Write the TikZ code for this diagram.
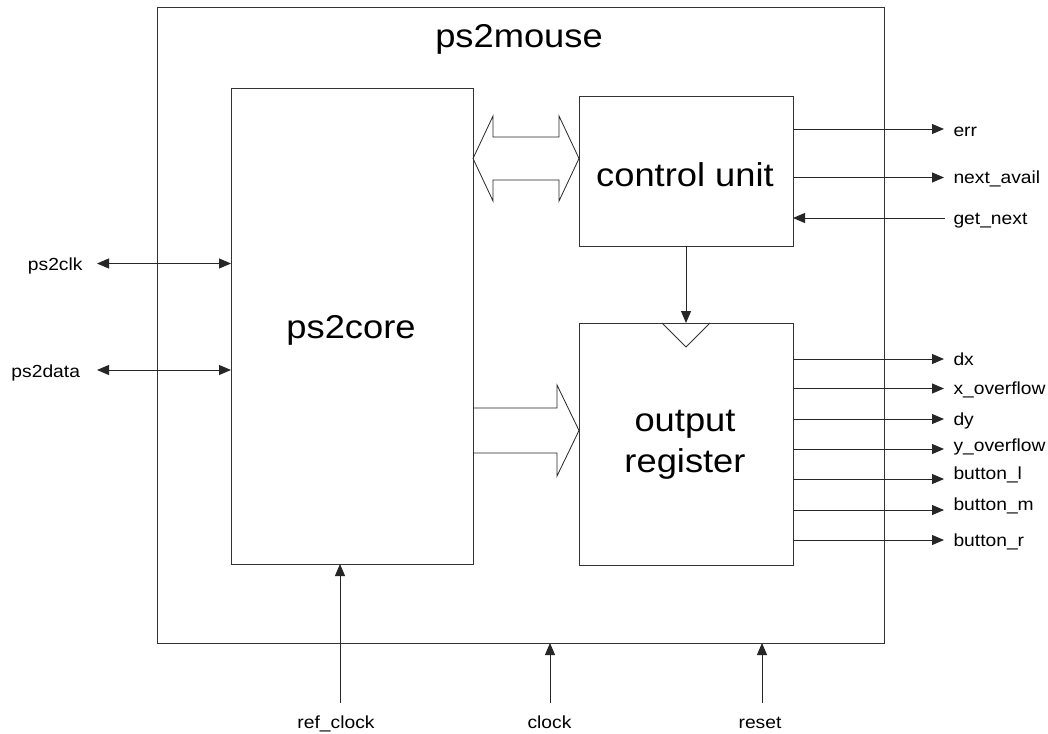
\documentclass[tikz,border=0pt]{standalone}
\usepackage{fontspec}
\setmainfont[FakeStretch=1.1]{Liberation Sans}
\usetikzlibrary{arrows.meta,calc}
\begin{document}
\begin{tikzpicture}[x=1pt,y=-1pt,line width=1pt,
  blk/.style={draw=black!80,inner sep=0pt,outer sep=0pt},
  big/.style={font=\fontsize{33}{40}\selectfont,inner sep=0pt,anchor=base},
  lab/.style={font=\fontsize{17.5}{21}\selectfont,inner sep=0pt},
  sig/.style={draw=black!85,-{Triangle[length=12pt,width=10pt]}},
  bidir/.style={draw=black!85,{Triangle[length=12pt,width=10pt]}-{Triangle[length=12pt,width=10pt]}},
  bus/.style={draw=black!85,line width=0.8pt,line join=miter}]
% canvas
\fill[white] (0,0) rectangle (1048,733);
\useasboundingbox (0,0) rectangle (1048,733);

% blocks
\node[blk,minimum width=727pt,minimum height=635pt] (outer) at (520.5,325.5) {};
\node[blk,minimum width=242pt,minimum height=475pt] (core) at (352,326.5) {};
\node[blk,minimum width=214pt,minimum height=149pt] (cu) at (686,171.5) {};
\node[blk,minimum width=214pt,minimum height=242pt] (orr) at (686,444) {};

% block titles
\node[big] (t-top) at (519,48) {ps2mouse};
\node[big] (t-core) at (351,338) {ps2core};
\node[big] (t-cu) at (685,186.5) {control unit};
\node[big] (t-out) at (685,431) {output};
\node[big] (t-reg) at (685,472) {register};

% clock input of the output register
\draw[blk] ($(orr.north)+(-24,0)$) -- ($(orr.north)+(0,24)$) -- ($(orr.north)+(24,0)$);

% control unit drives the register clock
\draw[sig] (cu.south) -- (orr.north);

% bus between ps2core and control unit
\coordinate (bl) at (core.east |- 0,158.5);
\coordinate (br) at (cu.west |- 0,158.5);
\draw[bus] (bl) -- ($(bl)+(20,-42.5)$) -- ($(bl)+(20,-21.5)$) -- ($(br)+(-20,-21.5)$)
  -- ($(br)+(-20,-42.5)$) -- (br) -- ($(br)+(-20,42.5)$) -- ($(br)+(-20,21.5)$)
  -- ($(bl)+(20,21.5)$) -- ($(bl)+(20,42.5)$) -- cycle;

% data bus from ps2core into the output register
\coordinate (dl) at (core.east |- 0,430.5);
\coordinate (dr) at (orr.west |- 0,430.5);
\draw[bus] ($(dl)+(0,-22.5)$) -- ($(dr)+(-22,-22.5)$) -- ($(dr)+(-22,-45.5)$) -- (dr)
  -- ($(dr)+(-22,45.5)$) -- ($(dr)+(-22,22.5)$) -- ($(dl)+(0,22.5)$);

% control unit ports
\foreach \nm/\yy/\dy/\txt in {err/129/7/err,nav/177.5/6/next\_avail}{
  \coordinate (o-\nm) at (944,\yy);
  \node[lab,anchor=base west] (l-\nm) at (953,\yy+\dy) {\txt};
  \draw[sig] (cu.east |- o-\nm) -- (o-\nm);
}
\coordinate (o-gn) at (945,218);
\node[lab,anchor=base west] (l-gn) at (953,224) {get\_next};
\draw[sig] (o-gn) -- (cu.east |- o-gn);

% output register ports
\foreach \nm/\yy/\dy/\txt in {dx/359/6/dx,xo/388.5/6/x\_overflow,dy/419/6.5/dy,
  yo/449/2/y\_overflow,bl/479/0/button\_l,bm/510/0.5/button\_m,br/540/6/button\_r}{
  \coordinate (o-\nm) at (944,\yy);
  \node[lab,anchor=base west] (l-\nm) at (953,\yy+\dy) {\txt};
  \draw[sig] (orr.east |- o-\nm) -- (o-\nm);
}

% PS/2 lines
\coordinate (p-ck) at (97,263.5);
\coordinate (p-dt) at (97,370);
\node[lab,anchor=base east] (l-ck) at (83,270.5) {ps2clk};
\node[lab,anchor=base east] (l-dt) at (80.5,377) {ps2data};
\draw[bidir] (p-ck) -- (core.west |- p-ck);
\draw[bidir] (p-dt) -- (core.west |- p-dt);

% bottom inputs
\coordinate (i-rc) at (340,703);
\coordinate (i-cl) at (550,703);
\coordinate (i-rs) at (762,703);
\node[lab,anchor=base] (l-rc) at (336,728.5) {ref\_clock};
\node[lab,anchor=base] (l-cl) at (549.5,728.5) {clock};
\node[lab,anchor=base] (l-rs) at (760,728.5) {reset};
\draw[sig] (i-rc) -- (core.south -| i-rc);
\draw[sig] (i-cl) -- (outer.south -| i-cl);
\draw[sig] (i-rs) -- (outer.south -| i-rs);
\end{tikzpicture}
\end{document}
